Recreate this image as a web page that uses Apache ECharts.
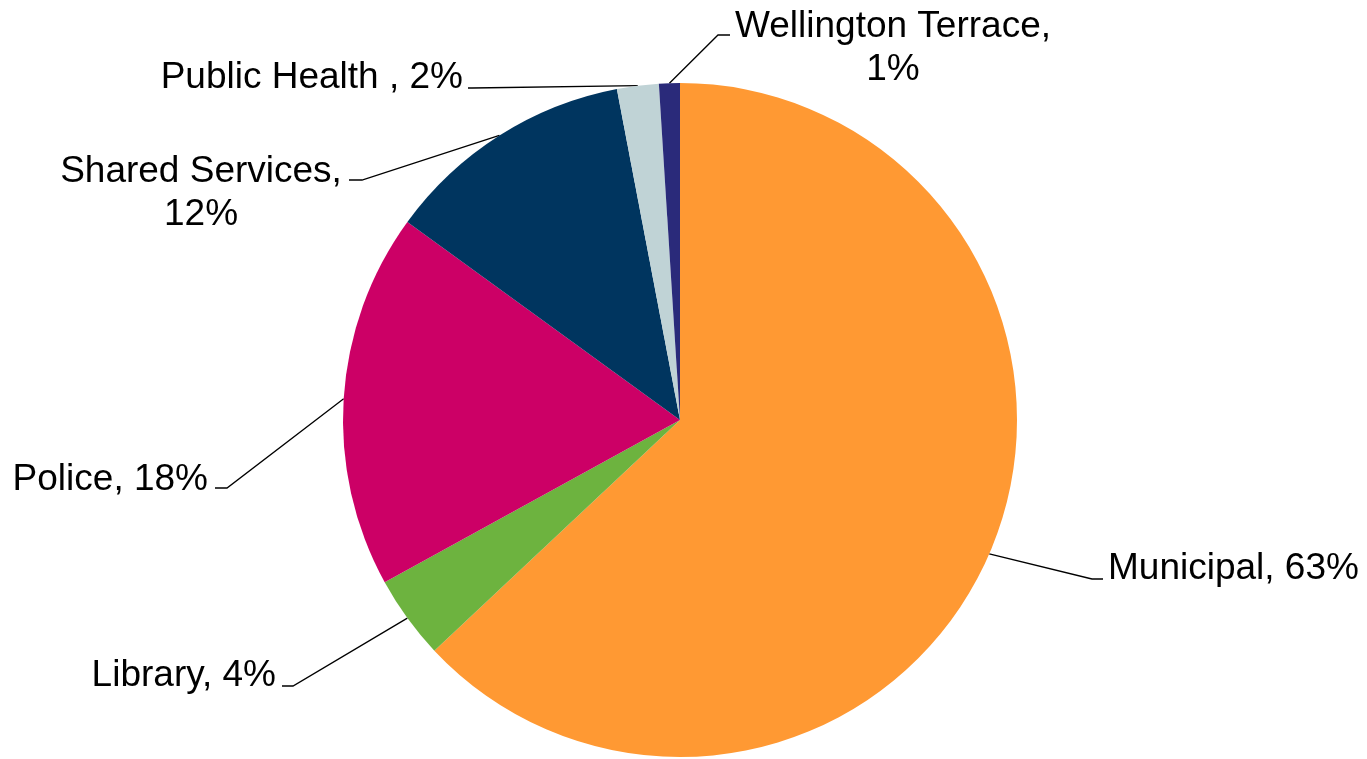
<!DOCTYPE html>
<html><head><meta charset="utf-8">
<script src="https://cdn.jsdelivr.net/npm/echarts@6/dist/echarts.min.js"></script>
<style>html,body{margin:0;padding:0;background:#fff}#chart{width:1367px;height:759px}</style>
</head><body><div id="chart"></div>
<script>
const categories = ['Municipal', 'Library', 'Police', 'Shared Services', 'Public Health ', 'Wellington Terrace'];
const shares = [63, 4, 18, 12, 2, 1];
const colors = ['#FF9933', '#6DB33F', '#CC0066', '#00355F', '#C0D3D6', '#2A2A7A'];

// label placement (layout only, Excel-style leader lines)
const labelPlacement = [
  {elbow: [1092, 579], end: [1103, 579], x: 1108, y: 568.5, align: 'left', wrap: false},
  {elbow: [293, 686], end: [282, 686], x: 276, y: 675.5, align: 'right', wrap: false},
  {elbow: [227, 488], end: [215, 488], x: 208, y: 479.5, align: 'right', wrap: false},
  {elbow: [362, 180], end: [349, 180], x: 201, y: 193, align: 'center', wrap: true},
  {elbow: [472, 88], end: [468, 88], x: 463, y: 77.5, align: 'right', wrap: false},
  {elbow: [718, 35], end: [730, 35], x: 893, y: 48.5, align: 'center', wrap: true}
];

const chart = echarts.init(document.getElementById('chart'), null, {renderer: 'canvas'});
chart.setOption({
  animation: false,
  backgroundColor: '#fff',
  series: [{
    type: 'pie',
    center: [680, 420],
    radius: 337,
    startAngle: 90,
    clockwise: true,
    avoidLabelOverlap: false,
    minShowLabelAngle: 0,
    itemStyle: {borderWidth: 0},
    emphasis: {disabled: true},
    data: categories.map((c, i) => ({name: c, value: shares[i], itemStyle: {color: colors[i]}})),
    label: {
      show: true,
      position: 'outside',
      color: '#000',
      fontFamily: 'Liberation Sans, Arial, sans-serif',
      fontSize: 37,
      lineHeight: 43,
      formatter: function (p) {
        const pl = labelPlacement[p.dataIndex];
        return p.name + ',' + (pl.wrap ? '\n' : ' ') + Math.round(p.percent) + '%';
      }
    },
    labelLine: {show: true, length: 20, length2: 10, lineStyle: {color: '#000', width: 1.3}},
    labelLayout: function (params) {
      const pl = labelPlacement[params.dataIndex];
      const s = params.labelLinePoints ? params.labelLinePoints[0] : pl.elbow;
      return {
        x: pl.x, y: pl.y, align: pl.align, verticalAlign: 'middle',
        labelLinePoints: [s, pl.elbow, pl.end]
      };
    }
  }]
});
</script>
</body></html>
